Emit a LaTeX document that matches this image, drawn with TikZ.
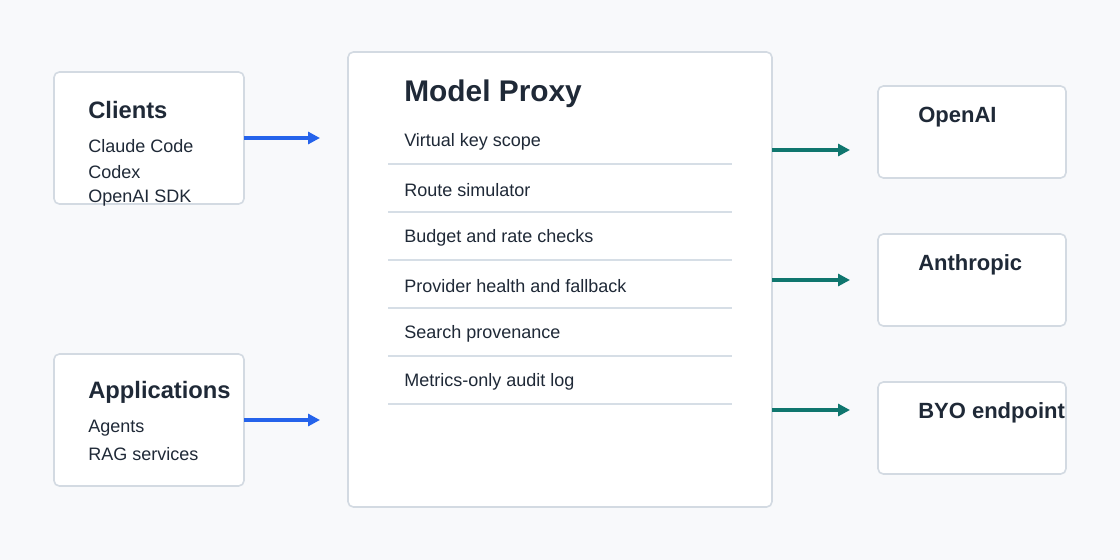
\documentclass[tikz,border=0pt]{standalone}
\usepackage{fontspec}
\setmainfont{Liberation Sans}
\usetikzlibrary{arrows.meta}
\definecolor{bg}{HTML}{F8F9FB}
\definecolor{bd}{HTML}{D3DAE2}
\definecolor{tx}{HTML}{1F2937}
\definecolor{bl}{HTML}{2563EB}
\definecolor{gr}{HTML}{0F766E}
\definecolor{ln}{HTML}{D6DEE6}
\begin{document}
\begin{tikzpicture}[x=0.75pt,y=-0.75pt,
 box/.style={draw=bd,line width=1.2pt,fill=white,rounded corners=4pt},
 ttl/.style={anchor=west,font=\bfseries\fontsize{17.8}{20}\selectfont,text=tx,inner sep=0},
 rtl/.style={anchor=west,font=\bfseries\fontsize{16.5}{18}\selectfont,text=tx,inner sep=0},
 itm/.style={anchor=west,font=\fontsize{13.5}{15}\selectfont,text=tx,inner sep=0},
 ba/.style={draw=bl,line width=2.6pt,-{Triangle[length=9pt,width=9pt]}},
 ga/.style={draw=gr,line width=2.6pt,-{Triangle[length=9pt,width=9pt]}},
 sep/.style={draw=ln,line width=1pt}]
\fill[bg] (0,0) rectangle (1120,560);
\useasboundingbox (0,0) rectangle (1120,560);
\draw[box] (54,72) rectangle (244,204);
\draw[box] (54,354) rectangle (244,486);
\draw[box] (348,52) rectangle (772,507);
\draw[box] (878,86) rectangle (1066,178);
\draw[box] (878,234) rectangle (1066,326);
\draw[box] (878,382) rectangle (1066,474);
\node[ttl] (tcl) at (88,110) {Clients};
\node[itm] (c1) at (88,146) {Claude Code};
\node[itm] (c2) at (88,172) {Codex};
\node[itm] (c3) at (88,198) {OpenAI SDK};
\node[ttl] (tap) at (88,392) {Applications};
\node[itm] (a1) at (88,428) {Agents};
\node[itm] (a2) at (88,454) {RAG services};
\node[anchor=west,font=\bfseries\fontsize{22.4}{25}\selectfont,text=tx,inner sep=0] (mp) at (404,94) {Model Proxy};
\foreach \t/\y [count=\i] in {Virtual key scope/142,Route simulator/190,Budget and rate checks/238,Provider health and fallback/286,Search provenance/334,Metrics-only audit log/382}{
 \node[itm] (p\i) at (404,\y) {\t};
 \draw[sep] (388,\y+22) -- (732,\y+22);
}
\node[rtl] (oa) at (918,117) {OpenAI};
\node[rtl] (an) at (918,265) {Anthropic};
\node[rtl] (byo) at (918,413) {BYO endpoint};
\coordinate (s1) at (244,138); \coordinate (e1) at (320,138);
\coordinate (s2) at (244,420); \coordinate (e2) at (320,420);
\coordinate (s3) at (772,150); \coordinate (e3) at (850,150);
\coordinate (s4) at (772,280); \coordinate (e4) at (850,280);
\coordinate (s5) at (772,410); \coordinate (e5) at (850,410);
\draw[ba] (s1) -- (e1);
\draw[ba] (s2) -- (e2);
\draw[ga] (s3) -- (e3);
\draw[ga] (s4) -- (e4);
\draw[ga] (s5) -- (e5);
\end{tikzpicture}
\end{document}
